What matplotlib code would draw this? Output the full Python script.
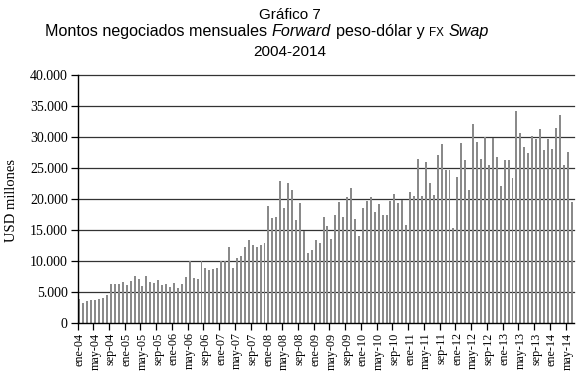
import numpy as np
import matplotlib
matplotlib.use("Agg")
import matplotlib.pyplot as plt
from matplotlib.ticker import FuncFormatter

# ---- data (USD millones), monthly ene-04 .. jun-14 ----
montos = [
    3860, 3100, 3430, 3600, 3700, 3800, 4030, 4400, 6300, 6300, 6200, 6570,
    6140, 6730, 7490, 7100, 5860, 7600, 6570, 6460, 6950, 6080, 6300, 5800,
    6460, 5540, 6200, 7300, 10000, 7200, 7050, 10000, 8800, 8440, 8600, 8760,
    9950, 9950, 12200, 8900, 10500, 10700, 12200, 13300, 12500, 12260, 12600, 12900,
    18900, 16900, 17100, 22850, 18500, 22600, 21400, 16560, 19300, 14800, 11300, 11670,
    13400, 12850, 17100, 15600, 13500, 17400, 19500, 17000, 20200, 21800, 16800, 14000,
    18500, 19600, 20200, 17800, 19100, 17400, 17300, 19600, 20750, 19300, 19800, 15800,
    21100, 20400, 26400, 20500, 25900, 22600, 20600, 27000, 28800, 24600, 24600, 15300,
    23500, 29000, 26300, 21400, 32000, 29100, 26400, 29900, 25400, 29800, 26700, 22100,
    26300, 26300, 23300, 34100, 30600, 28300, 27400, 30100, 29700, 31300, 27800, 29600,
    28000, 31400, 33500, 25500, 27500, 19500,
]
etiquetas = [
    "ene-04", "may-04", "sep-04", "ene-05", "may-05", "sep-05", "ene-06", "may-06",
    "sep-06", "ene-07", "may-07", "sep-07", "ene-08", "may-08", "sep-08", "ene-09",
    "may-09", "sep-09", "ene-10", "may-10", "sep-10", "ene-11", "may-11", "sep-11",
    "ene-12", "may-12", "sep-12", "ene-13", "may-13", "sep-13", "ene-14", "may-14",
]
y_ticks = [0, 5000, 10000, 15000, 20000, 25000, 30000, 35000, 40000]

W, H = 577, 381
fig = plt.figure(figsize=(W / 100, H / 100), dpi=100)
fig.patch.set_facecolor("white")

left, right, top, bottom = 77.5, 573.5, 74.7, 322.7
ax = fig.add_axes([left / W, 1 - bottom / H, (right - left) / W, (bottom - top) / H])

x = np.arange(len(montos))
ax.bar(x, montos, width=0.5, color="#8a8a8a", linewidth=0, zorder=3)
ax.set_xlim(-0.5, len(montos) - 0.5)
ax.set_ylim(0, 40000)

for yv in y_ticks[1:]:
    ax.axhline(yv, color="#333333", lw=0.9, zorder=1, clip_on=False)

for s in ["top", "right"]:
    ax.spines[s].set_visible(False)
for s in ["left", "bottom"]:
    ax.spines[s].set_color("black")
    ax.spines[s].set_linewidth(1.0)
    ax.spines[s].set_zorder(4)

serif = "Liberation Serif"
ax.set_yticks(y_ticks)
ax.yaxis.set_major_formatter(FuncFormatter(lambda v, p: f"{int(v):,}".replace(",", ".")))
ax.tick_params(axis="y", length=5, width=0.9, pad=2, labelsize=10, color="black")
for lab in ax.get_yticklabels():
    lab.set_fontfamily(serif)

ax.set_xticks(x[::4])
ax.set_xticklabels(etiquetas, rotation=90, fontsize=8.7, fontfamily=serif,
                   ha="center", va="top")
ax.tick_params(axis="x", which="major", length=0, pad=7)
ax.set_xticks(np.arange(-0.5, len(montos), 4), minor=True)
ax.tick_params(axis="x", which="minor", length=5, width=0.9, color="black")

fig.text(12 / W, 1 - 201 / H, "USD millones", rotation=90, ha="center", va="center",
         fontsize=10.5, fontfamily=serif)

# ---- title ----
sans = "Liberation Sans"


def rich_line(pieces, baseline_px, cx, fs):
    renderer = fig.canvas.get_renderer()
    texts, widths = [], []
    for s, kw in pieces:
        if s == " ":
            texts.append(None)
            widths.append(0.278 * fs * 100 / 72)
            continue
        kw = dict(kw)
        size = fs * kw.pop("scale", 1.0)
        t = fig.text(0, 0, s, fontfamily=sans, va="baseline", ha="left",
                     fontsize=size, transform=None, **kw)
        bb = t.get_window_extent(renderer)
        texts.append(t)
        widths.append(bb.width)
    total = sum(widths)
    xpos = cx - total / 2
    for t, w in zip(texts, widths):
        if t is not None:
            t.set_position((xpos, H - baseline_px))
        xpos += w


rich_line([("Gráfico 7", {})], 19, 290, 11)
rich_line([
    ("Montos negociados mensuales", {}), (" ", {}),
    ("Forward", dict(style="italic")), (" ", {}),
    ("peso-dólar y", {}), (" ", {}),
    ("FX", dict(scale=0.72)), (" ", {}),
    ("Swap", dict(style="italic")),
], 35.7, 267, 11.6)
rich_line([("2004-2014", {})], 56.5, 290, 11)

fig.savefig("out.png", dpi=100, facecolor="white")
